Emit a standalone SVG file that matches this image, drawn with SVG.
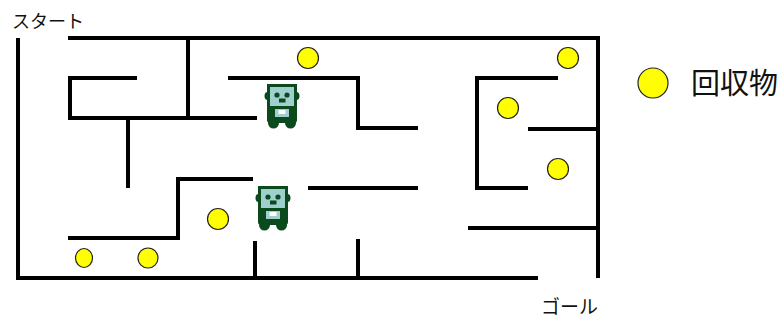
<svg xmlns="http://www.w3.org/2000/svg" width="782" height="320" viewBox="0 0 782 320">
  <style>
    .wall { fill: none; stroke: #000; stroke-width: 4; stroke-linejoin: miter; stroke-linecap: butt; }
    .coin { fill: #ffff00; stroke: #222; stroke-width: 1.2; }
    .label { font-family: "Noto Sans CJK JP", "Liberation Sans", sans-serif; fill: #111; }
    .dk { fill: #0b4a1c; }
    .lt { fill: #9fcfcf; }
  </style>
  <defs>
    <!-- small robot, drawn in a 34x46 box -->
    <g id="robot">
      <ellipse class="dk" cx="2.5" cy="12" rx="3" ry="4"/>
      <ellipse class="dk" cx="31.5" cy="12" rx="3" ry="4"/>
      <rect class="dk" x="2" y="22" width="30" height="17" rx="3"/>
      <circle class="dk" cx="8.5" cy="39" r="5.5"/>
      <circle class="dk" cx="25.5" cy="39" r="5.5"/>
      <rect class="lt" x="10" y="23" width="14" height="10"/>
      <rect x="13.5" y="26" width="7" height="4" fill="#fff"/>
      <rect x="3.5" y="1.5" width="27" height="22" fill="#9fcfcf" stroke="#0b4a1c" stroke-width="3"/>
      <circle class="dk" cx="12" cy="11" r="2.6"/>
      <circle class="dk" cx="22" cy="11" r="2.6"/>
      <rect class="dk" x="14" y="14.5" width="6.5" height="4"/>
    </g>
  </defs>

  <rect width="782" height="320" fill="#fff"/>

  <!-- maze walls -->
  <g id="walls">
    <polyline class="wall" points="18,38 18,278 538,278"/>
    <polyline class="wall" points="68,38 598,38 598,278"/>
    <polyline class="wall" points="137,78 70,78 70,118 257,118"/>
    <line class="wall" x1="188" y1="38" x2="188" y2="118"/>
    <polyline class="wall" points="228,78 358,78 358,128 418,128"/>
    <polyline class="wall" points="558,78 477,78 477,188 528,188"/>
    <line class="wall" x1="528" y1="129" x2="598" y2="129"/>
    <line class="wall" x1="468" y1="228" x2="598" y2="228"/>
    <line class="wall" x1="128" y1="118" x2="128" y2="188"/>
    <polyline class="wall" points="68,238 178,238 178,179 253,179"/>
    <line class="wall" x1="308" y1="188" x2="418" y2="188"/>
    <line class="wall" x1="255" y1="241" x2="255" y2="278"/>
    <line class="wall" x1="358" y1="239" x2="358" y2="278"/>
  </g>

  <!-- collectable items -->
  <g id="coins">
    <circle class="coin" cx="308" cy="58" r="10.5"/>
    <circle class="coin" cx="568" cy="58" r="10.5"/>
    <circle class="coin" cx="508" cy="108" r="10.5"/>
    <circle class="coin" cx="558" cy="169" r="10.5"/>
    <circle class="coin" cx="218" cy="219" r="10.5"/>
    <ellipse class="coin" cx="84" cy="258" rx="8.5" ry="9.5"/>
    <circle class="coin" cx="148" cy="258" r="10"/>
  </g>

  <!-- robots -->
  <g id="robot1"><use href="#robot" x="265" y="84"/></g>
  <g id="robot2"><use href="#robot" x="256" y="186"/></g>

  <!-- labels -->
  <g id="start"><text class="label" x="12" y="28" font-size="18">スタート</text></g>
  <g id="goal"><text class="label" x="541" y="314" font-size="19">ゴール</text></g>
  <g id="legend">
    <circle class="coin" cx="653" cy="83" r="15"/>
    <text class="label" x="691" y="94" font-size="29">回収物</text>
  </g>
</svg>
